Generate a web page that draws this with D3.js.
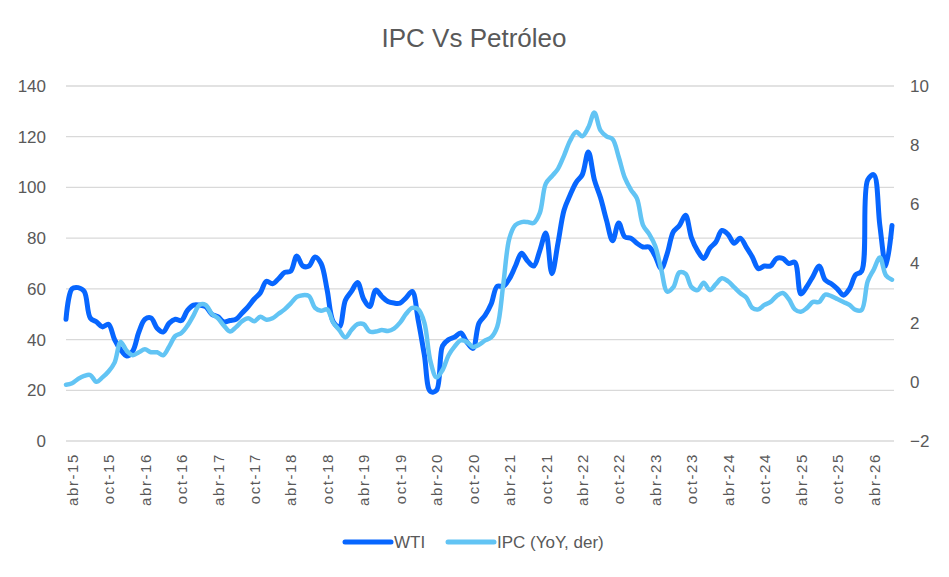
<!DOCTYPE html>
<html lang="es">
<head>
  <meta charset="UTF-8" />
  <title>IPC Vs Petróleo</title>
  <script src="https://d3js.org/d3.v7.min.js"></script>
  <style>
    body { margin: 0; background: #fff; }
    svg { display: block; background: #fff; }
    text { font-family: "Liberation Sans", Arial, sans-serif; fill: #595959; }
  </style>
</head>
<body>
  <svg id="chart" width="949" height="577"></svg>
  <script>
    // monthly series, mar-15 .. jul-26
    const startYear = 2015, startMonth = 2;
    const monthNames = ['ene', 'feb', 'mar', 'abr', 'may', 'jun', 'jul', 'ago', 'sep', 'oct', 'nov', 'dic'];
    const tickLabels = ['abr-15', 'oct-15', 'abr-16', 'oct-16', 'abr-17', 'oct-17', 'abr-18', 'oct-18',
      'abr-19', 'oct-19', 'abr-20', 'oct-20', 'abr-21', 'oct-21', 'abr-22', 'oct-22', 'abr-23', 'oct-23',
      'abr-24', 'oct-24', 'abr-25', 'oct-25', 'abr-26'];

    const wti = [
      48, 60, 60.5, 59, 48.5, 47, 45, 46, 40, 36, 33.5, 35.5,
      43, 48, 48.5, 44.5, 43, 46.5, 48, 47.5, 51.5, 53.6, 53.6, 53,
      50, 49, 47, 47.5, 48, 50.5, 53, 56, 58.5, 63, 62, 64,
      66.5, 67, 73, 69, 69, 72.6, 70, 59.5, 47, 45, 55.5, 59,
      62.5, 56, 53, 59.5, 57, 55, 54.4, 54.4, 56.5, 59, 47.5, 34,
      19.5, 20, 37.5, 40, 41, 42.6, 39, 36.5, 46.5, 49.5, 54, 61,
      61, 64, 69, 74, 71, 69, 75, 82, 66, 78, 91, 97,
      102, 105, 114, 103, 96, 87, 79, 86, 80.5, 80, 78, 76.5,
      76.5, 73, 68, 74, 82.5, 85, 89, 80, 75, 72, 76, 78.5,
      83, 81.5, 78, 80, 76.5, 72.6, 68, 69, 69, 72, 72, 70,
      70.5, 58, 61, 65, 69, 63.5, 62, 60, 57.5, 60, 65.5, 67,
      103, 105, 85, 69, 85
    ];

    const ipc = [
      -0.1, -0.05, 0.1, 0.2, 0.23, 0.0, 0.15, 0.35, 0.65, 1.35, 1.05, 0.9,
      1.0, 1.1, 1.0, 1.0, 0.9, 1.2, 1.55, 1.65, 1.9, 2.25, 2.6, 2.6,
      2.3, 2.15, 1.9, 1.7, 1.85, 2.05, 2.15, 2.05, 2.2, 2.1, 2.15, 2.3,
      2.45, 2.65, 2.87, 2.93, 2.9, 2.5, 2.4, 2.45, 2.0, 1.75, 1.5, 1.75,
      1.95, 1.95, 1.7, 1.7, 1.75, 1.72, 1.8, 2.0, 2.3, 2.5, 2.45, 2.0,
      0.7, 0.15, 0.4, 0.9, 1.2, 1.4, 1.35, 1.18, 1.25, 1.4, 1.5, 1.86,
      3.3, 4.85, 5.3, 5.4, 5.4, 5.37, 5.7, 6.7, 6.95, 7.2, 7.65, 8.15,
      8.45, 8.3, 8.6, 9.1, 8.5, 8.3, 8.2, 7.6, 6.9, 6.5, 6.2, 5.3,
      5.0, 4.6, 3.8, 3.05, 3.2, 3.7, 3.65, 3.2, 3.1, 3.35, 3.1, 3.3,
      3.5, 3.4, 3.2, 3.0, 2.85, 2.5, 2.45, 2.6, 2.7, 2.9, 3.0, 2.8,
      2.45, 2.37, 2.5, 2.7, 2.7, 2.95, 2.9, 2.8, 2.7, 2.6, 2.43, 2.43,
      3.4, 3.8, 4.2, 3.6, 3.45
    ];

    const leftTicks = [0, 20, 40, 60, 80, 100, 120, 140];
    const rightTicks = [-2, 0, 2, 4, 6, 8, 10];

    const months = wti.map((_, i) => {
      const m = startMonth + i;
      const y = startYear + Math.floor(m / 12);
      return monthNames[m % 12] + '-' + String(y).slice(2);
    });

    const svg = d3.select('#chart');
    const colWti = '#0766FF';
    const colIpc = '#62C4F4';

    const x = d3.scaleLinear().domain([0, wti.length - 1]).range([66, 892]);
    const yL = d3.scaleLinear().domain([0, 140]).range([441, 86]);
    const yR = d3.scaleLinear().domain([-2, 10]).range([441, 86]);

    // title
    svg.append('text')
      .attr('x', 474).attr('y', 47)
      .attr('text-anchor', 'middle')
      .attr('font-size', 26)
      .text('IPC Vs Petróleo');

    // gridlines
    svg.append('g')
      .selectAll('line')
      .data(leftTicks)
      .join('line')
      .attr('x1', 66).attr('x2', 894)
      .attr('y1', d => yL(d)).attr('y2', d => yL(d))
      .attr('stroke', '#d9d9d9')
      .attr('stroke-width', 1.3);

    // left axis
    const axL = svg.append('g')
      .attr('transform', 'translate(46,0)')
      .call(d3.axisLeft(yL).tickValues(leftTicks).tickSize(0).tickPadding(0));
    axL.select('.domain').remove();
    axL.selectAll('text').attr('font-size', 17).attr('font-family', null).attr('fill', '#595959');

    // right axis
    const axR = svg.append('g')
      .attr('transform', 'translate(910,0)')
      .call(d3.axisRight(yR).tickValues(rightTicks).tickSize(0).tickPadding(0));
    axR.select('.domain').remove();
    axR.selectAll('text').attr('font-size', 17).attr('font-family', null).attr('fill', '#595959');

    // bottom axis
    const tickIdx = months.map((m, i) => i).filter(i => tickLabels.includes(months[i]));
    const axB = svg.append('g')
      .attr('transform', 'translate(0,441)')
      .call(d3.axisBottom(x).tickValues(tickIdx).tickFormat(i => months[i]).tickSize(0));
    axB.select('.domain').remove();
    axB.selectAll('text')
      .attr('font-size', 15)
      .attr('font-family', null)
      .attr('fill', '#595959')
      .attr('letter-spacing', 1.6)
      .attr('text-anchor', 'end')
      .attr('transform', 'rotate(-90)')
      .attr('x', -12)
      .attr('y', 0)
      .attr('dy', '0.35em');

    // lines (smoothed like the source)
    const curve = d3.curveCatmullRom.alpha(0.5);
    const lineL = d3.line().x((d, i) => x(i)).y(d => yL(d)).curve(curve);
    const lineR = d3.line().x((d, i) => x(i)).y(d => yR(d)).curve(curve);

    svg.append('path')
      .datum(wti)
      .attr('d', lineL)
      .attr('fill', 'none')
      .attr('stroke', colWti)
      .attr('stroke-width', 5)
      .attr('stroke-linejoin', 'round')
      .attr('stroke-linecap', 'round');

    svg.append('path')
      .datum(ipc)
      .attr('d', lineR)
      .attr('fill', 'none')
      .attr('stroke', colIpc)
      .attr('stroke-width', 4.5)
      .attr('stroke-linejoin', 'round')
      .attr('stroke-linecap', 'round');

    // legend
    const legend = [
      { name: 'WTI', color: colWti, x: 345 },
      { name: 'IPC (YoY, der)', color: colIpc, x: 448 }
    ];
    const lg = svg.append('g').selectAll('g').data(legend).join('g')
      .attr('transform', d => `translate(${d.x},542)`);
    lg.append('line')
      .attr('x1', 0).attr('x2', 46)
      .attr('stroke', d => d.color)
      .attr('stroke-width', 5)
      .attr('stroke-linecap', 'round');
    lg.append('text')
      .attr('x', 49).attr('dy', '0.35em')
      .attr('font-size', 17)
      .text(d => d.name);
  </script>
</body>
</html>
